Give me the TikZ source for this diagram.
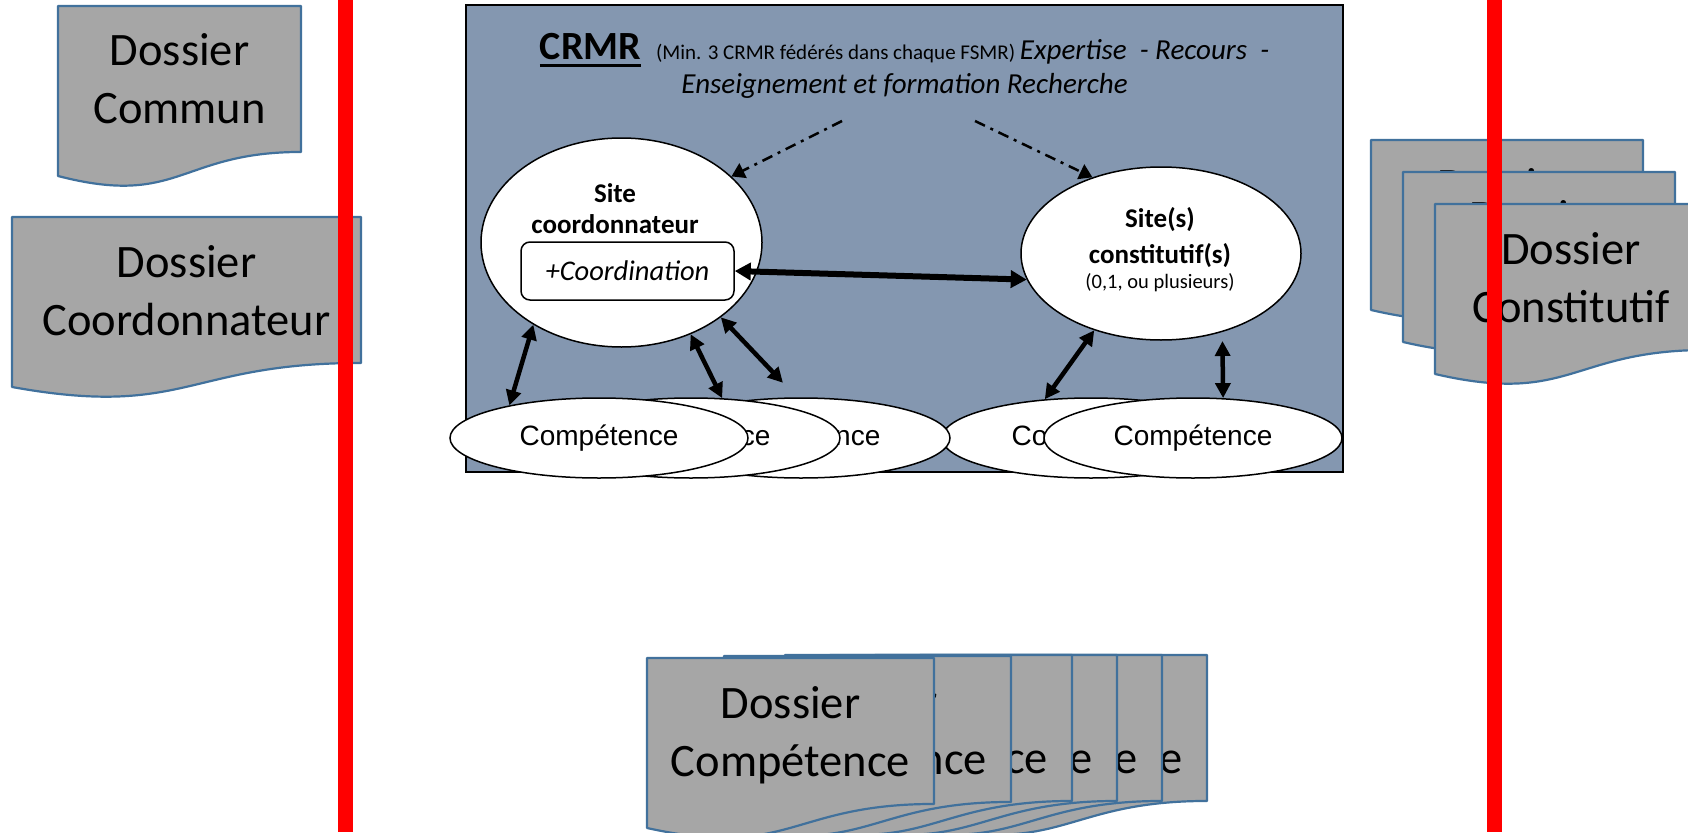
\documentclass[tikz,border=0pt]{standalone}
\usepackage{fontspec}
\setmainfont{Carlito}
\newfontfamily\arialf{Liberation Sans}
\usetikzlibrary{shapes.geometric,arrows.meta,calc}
\definecolor{docgray}{HTML}{A6A6A6}
\definecolor{docblue}{HTML}{41719C}
\definecolor{boxfill}{HTML}{8497B0}
\definecolor{redline}{HTML}{FF0000}
\newsavebox{\ulbox}
\newcommand{\thickul}[1]{\sbox{\ulbox}{#1}\rlap{\rule[-7pt]{\wd\ulbox}{3pt}}\usebox{\ulbox}}
% #1 name, #2 x0, #3 y0, #4 w, #5 h, #6 second line
\newcommand{\docshape}[6]{%
  \path[doc] (#2,#3) -- ({#2+#4},#3) -- ({#2+#4},{#3+0.802*#5})
    .. controls ({#2+0.5*#4},{#3+0.802*#5}) and ({#2+0.5*#4},{#3+1.1075*#5}) .. (#2,{#3+0.934*#5}) -- cycle;
  \node[dtext] (#1a) at ({#2+0.5*#4},{#3+60}) {Dossier};
  \node[dtext] (#1b) at ({#2+0.5*#4},{#3+118}) {#6};
}
\begin{document}
\begin{tikzpicture}[x=1pt,y=-1pt,
  doc/.style={fill=docgray,draw=docblue,line width=2.2pt,line join=round},
  dtext/.style={font=\fontsize{46.5}{56}\selectfont,anchor=base,inner sep=0pt},
  compell/.style={ellipse,draw=black,fill=white,line width=1.5pt,minimum width=298pt,minimum height=80pt,inner sep=0pt,font=\arialf\fontsize{28}{34}\selectfont},
  siteell/.style={ellipse,draw=black,fill=white,line width=1.5pt,inner sep=0pt},
  btext/.style={font=\bfseries\fontsize{27}{33}\selectfont,anchor=base,inner sep=0pt},
  dbl/.style={line width=4.5pt,{Triangle[length=15pt,width=15pt]}-{Triangle[length=15pt,width=15pt]}},
  ddarrow/.style={line width=2.5pt,dash pattern=on 11pt off 6pt on 3pt off 6pt,-{Triangle[length=13pt,width=16pt]}},
  redbar/.style={draw=redline,line width=15pt}
]
\useasboundingbox (0,0) rectangle (1688,832);
\fill[white] (0,0) rectangle (1688,832);

% CRMR box
\node[draw=black,fill=boxfill,line width=1.5pt,minimum width=877pt,minimum height=467pt,inner sep=0pt] (crmr) at (904.5,238.5) {};
\node[anchor=base,inner sep=0pt] (title1) at (904.5,60) {\fontsize{40}{48}\selectfont\bfseries\thickul{CRMR}\hspace{15pt}\mdseries\fontsize{21}{25}\selectfont(Min. 3 CRMR fédérés dans chaque FSMR) \itshape\fontsize{29}{35}\selectfont Expertise\ \ - Recours\ \ -};
\node[anchor=base,inner sep=0pt,font=\itshape\fontsize{29}{35}\selectfont] (title2) at (904.5,94) {Enseignement et formation Recherche};

% dossiers
\docshape{dcom}{58}{6}{243}{182}{Commun}
\docshape{dcoord}{12}{217}{349}{182}{Coordonnateur}
\docshape{dconsA}{1371}{140}{272}{182}{Constitutif}
\docshape{dconsB}{1403}{172}{272}{182}{Constitutif}
\docshape{dconsC}{1435}{204}{272}{182}{Constitutif}
\docshape{dcpF}{920}{655}{287}{182}{Compétence}
\docshape{dcpE}{875}{655}{287}{182}{Compétence}
\docshape{dcpD}{830}{655}{287}{182}{Compétence}
\docshape{dcpC}{785}{655}{287}{182}{Compétence}
\docshape{dcpB}{724}{656}{287}{182}{Compétence}
\docshape{dcpA}{647}{658}{287}{182}{Compétence}

% sites
\node[siteell,minimum width=281pt,minimum height=209pt] (sc) at (621.5,242.5) {};
\node[btext] (sct1) at (615,202) {Site};
\node[btext] (sct2) at (615,233) {coordonnateur};
\node[draw=black,fill=white,line width=1.5pt,rounded corners=9pt,minimum width=213pt,minimum height=58pt,inner sep=0pt,font=\itshape\fontsize{28.5}{34}\selectfont] (cb) at (627.5,271) {\raisebox{-2pt}{+Coordination}};
\node[siteell,minimum width=280pt,minimum height=173pt] (ss) at (1161,253.5) {};
\node[btext] (sst1) at (1160,227) {Site(s)};
\node[btext] (sst2) at (1160,263) {constitutif(s)};
\node[font=\fontsize{20.5}{25}\selectfont,anchor=base,inner sep=0pt] (sst3) at (1160,288) {(0,1, ou plusieurs)};

% competences
\node[compell] (e4) at (1091,438) {Compétence};
\node[compell] (e5) at (1193,438) {Compétence};
\node[compell] (e3) at (801,438) {Compétence};
\node[compell] (e2) at (691,438) {Compétence};
\node[compell] (e1) at (599,438) {Compétence};

% arrows
\draw[dbl] (sc.223.4) -- (e1.160.4);
\draw[dbl] (sc.307) -- (e2.52);
\draw[dbl,shorten >=20pt] (sc.323.4) -- (e3.96);
\draw[dbl] (ss.229.5) -- (e4.140.8);
\draw[dbl,shorten <=9pt] (ss.308) -- (e5.53.5);
\draw[line width=6pt,{Triangle[length=16pt,width=17pt]}-{Triangle[length=16pt,width=17pt]}] (cb.east) -- (ss.191.4);

\coordinate (t1) at (842,121);
\coordinate (t2) at (975,121);
\draw[ddarrow] (t1) -- (sc.31.8);
\draw[ddarrow] (t2) -- (ss.132.6);

% red bars
\coordinate (rlA) at (345.5,0);
\coordinate (rlB) at (345.5,832);
\coordinate (rrA) at (1494.5,0);
\coordinate (rrB) at (1494.5,832);
\draw[redbar] (rlA) -- (rlB);
\draw[redbar] (rrA) -- (rrB);
\end{tikzpicture}
\end{document}
